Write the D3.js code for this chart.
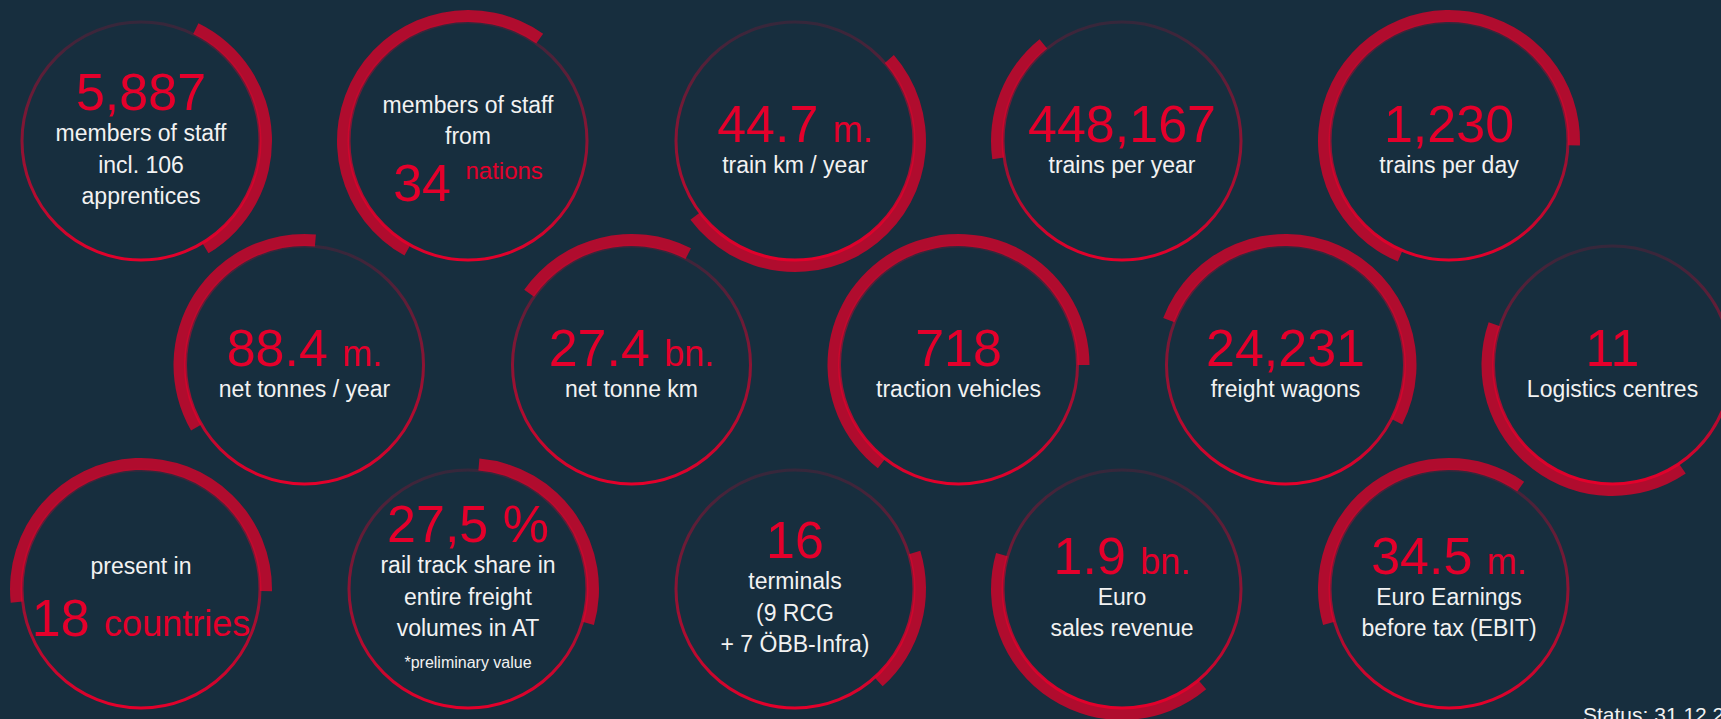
<!DOCTYPE html>
<html>
<head>
<meta charset="utf-8">
<script src="https://cdn.jsdelivr.net/npm/d3@7"></script>
<style>
  body { margin: 0; background: #172e3e; overflow: hidden; }
  text { font-family: "Liberation Sans", Arial, sans-serif; }
</style>
</head>
<body>
<svg id="chart" width="1721" height="719"></svg>
<script>
// key figures, left to right, row by row
const figures = ["5,887", "34", "44.7", "448,167", "1,230",
                 "88.4", "27.4", "718", "24,231", "11",
                 "18", "27,5 %", "16", "1.9", "34.5"]
const units = ["", "nations", "m.", "", "",
               "m.", "bn.", "", "", "",
               "countries", "", "", "bn.", "m."]
const labelsAbove = [[], ["members of staff", "from"], [], [], [],
                     [], [], [], [], [],
                     ["present in"], [], [], [], []]
const labelsBelow = [["members of staff", "incl. 106", "apprentices"], [], ["train km / year"], ["trains per year"], ["trains per day"],
                     ["net tonnes / year"], ["net tonne km"], ["traction vehicles"], ["freight wagons"], ["Logistics centres"],
                     [], ["rail track share in", "entire freight", "volumes in AT"], ["terminals", "(9 RCG", "+ 7 ÖBB-Infra)"], ["Euro", "sales revenue"], ["Euro Earnings", "before tax (EBIT)"]]
const notes = ["", "", "", "", "",
               "", "", "", "", "",
               "", "*preliminary value", "", "", ""]
// highlighted ring segment, degrees clockwise from 12 o'clock
const arcStart = [26, 209, 49, 262, 203,
                  240, 305, 218, 291, 146,
                  264, 5, 73, 140, 254]
const arcEnd = [149, 395, 233, 321, 452,
                365, 387, 450, 477, 289,
                451, 106, 138, 286, 395]
// honeycomb slots
const gridCol = [0, 1, 2, 3, 4, 0.5, 1.5, 2.5, 3.5, 4.5, 0, 1, 2, 3, 4]
const gridRow = [0, 0, 0, 0, 0, 1, 1, 1, 1, 1, 2, 2, 2, 2, 2]
const statusText = "Status: 31.12.2022"

const SUPERSCRIPT = new Set(["nations"])
const RED = "#e4002b"
const RING = "#b00c2e"

var svg = d3.select("#chart")
svg.append("rect").attr("width", 1721).attr("height", 719).attr("fill", "#172e3e")

var grad = svg.append("defs").append("linearGradient")
    .attr("id", "fade").attr("x1", 0).attr("y1", 0).attr("x2", 0).attr("y2", 1)
grad.append("stop").attr("offset", "0%").attr("stop-color", RED).attr("stop-opacity", 0.15)
grad.append("stop").attr("offset", "100%").attr("stop-color", RED).attr("stop-opacity", 1)

var x = d3.scaleLinear().domain([0, 4]).range([141, 1449])
var y = d3.scaleLinear().domain([0, 2]).range([141, 589])
var angle = d3.scaleLinear().domain([0, 360]).range([0, 2 * Math.PI])
var ring = d3.arc().innerRadius(119).outerRadius(131)

function layoutLines(i) {
    var lines = []
    labelsAbove[i].forEach(t => lines.push({kind: "label", text: t}))
    lines.push({kind: "figure"})
    labelsBelow[i].forEach(t => lines.push({kind: "label", text: t}))
    if (notes[i]) lines.push({kind: "note", text: notes[i]})

    var pos = 0
    lines.forEach((l, k) => {
        if (k > 0) {
            if (l.kind === "figure") pos += SUPERSCRIPT.has(units[i]) ? 57 : 62
            else if (lines[k - 1].kind === "figure") pos += 31
            else pos += 31.5
        }
        l.dy = pos
    })
    // block is centred a little below the middle of the ring
    var shift = 16 - (lines[0].dy + lines[lines.length - 1].dy) / 2
    lines.forEach(l => l.dy += shift)
    return lines
}

for (var i = 0; i < figures.length; i++) {
    var cx = x(gridCol[i]), cy = y(gridRow[i])
    var g = svg.append("g").attr("transform", "translate(" + cx + "," + cy + ")")

    g.append("path")
        .attr("d", ring({startAngle: angle(arcStart[i]), endAngle: angle(arcEnd[i])}))
        .attr("fill", RING)

    g.append("circle")
        .attr("r", 119)
        .attr("fill", "none")
        .attr("stroke", "url(#fade)")
        .attr("stroke-width", 3)

    layoutLines(i).forEach(l => {
        var t = g.append("text").attr("text-anchor", "middle").attr("y", l.dy)
        if (l.kind === "figure") {
            t.attr("fill", RED)
            t.append("tspan").attr("font-size", 52).text(figures[i] + (units[i] ? " " : ""))
            if (units[i]) {
                if (SUPERSCRIPT.has(units[i])) {
                    t.append("tspan").attr("font-size", 24).attr("dy", -22).text(units[i])
                } else {
                    t.append("tspan").attr("font-size", 36).text(units[i])
                }
            }
        } else {
            t.attr("fill", "#f2f2f2")
                .attr("font-size", l.kind === "note" ? 16 : 23)
                .text(l.text)
        }
    })
}

svg.append("text")
    .attr("x", 1583).attr("y", 722)
    .attr("fill", "#f2f2f2").attr("font-size", 21)
    .text(statusText)
</script>
</body>
</html>
